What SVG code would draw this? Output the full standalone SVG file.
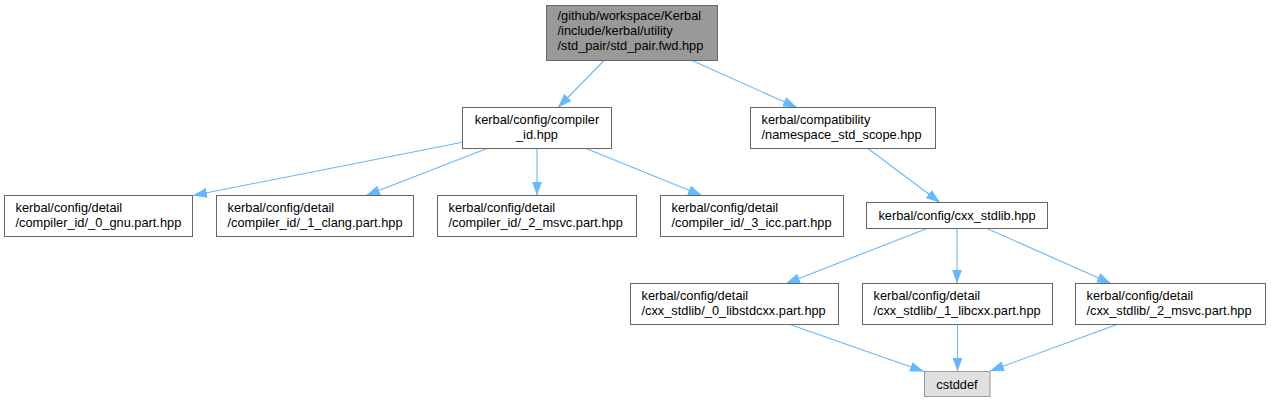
<svg xmlns="http://www.w3.org/2000/svg" width="1271" height="403" viewBox="0 0 1271 403">
<style>
.n rect{fill:#ffffff;stroke:#666666;stroke-width:1}
.n.root rect{fill:#999999}
.n.sys rect{fill:#e0e0e0;stroke:#999999}
text{font-family:"Liberation Sans",Arial,Helvetica,sans-serif;font-size:12.8px;fill:#000000}
.c{text-anchor:middle}
.e path{fill:none;stroke:#63b8ff;stroke-width:1.1;marker-end:url(#ah)}
</style>
<defs>
<marker id="ah" viewBox="0 0 14 10" refX="14" refY="5" markerWidth="14" markerHeight="10" markerUnits="userSpaceOnUse" orient="auto">
<path d="M0,0 L14,5 L0,10 z" fill="#63b8ff" stroke="none"/>
</marker>
</defs>
<rect width="1271" height="403" fill="#ffffff"/>
<g id="edges" class="e">
<path d="M604,60.5 L558,107.5"/>
<path d="M692,60.5 L797,107.5"/>
<path d="M462.5,142.3 L193,195.5"/>
<path d="M487,148.5 L366,195.5"/>
<path d="M537,148.5 L537,195.5"/>
<path d="M586,148.5 L702,195.5"/>
<path d="M868,148.5 L940,202.5"/>
<path d="M927,228.5 L786,283.5"/>
<path d="M957,228.5 L957,283.5"/>
<path d="M987,228.5 L1111,283.5"/>
<path d="M790,324.5 L924,371.5"/>
<path d="M957.5,324.5 L957.5,371.5"/>
<path d="M1117,324.5 L990,371"/>
</g>
<g id="node_root" class="n root">
<rect x="546.5" y="5.5" width="171" height="55"/>
<text x="557.5" y="20">/github/workspace/Kerbal</text>
<text x="557.5" y="35">/include/kerbal/utility</text>
<text x="557.5" y="50">/std_pair/std_pair.fwd.hpp</text>
</g>
<g id="node_compiler_id" class="n">
<rect x="462.5" y="107.5" width="149" height="41"/>
<text class="c" x="537" y="123.5">kerbal/config/compiler</text>
<text class="c" x="537" y="138.5">_id.hpp</text>
</g>
<g id="node_namespace_std_scope" class="n">
<rect x="750.5" y="107.5" width="185" height="41"/>
<text x="761.5" y="123.5">kerbal/compatibility</text>
<text x="761.5" y="138.5">/namespace_std_scope.hpp</text>
</g>
<g id="node_gnu" class="n">
<rect x="4.5" y="195.5" width="188" height="41"/>
<text x="15.5" y="211.5">kerbal/config/detail</text>
<text x="15.5" y="226.5">/compiler_id/_0_gnu.part.hpp</text>
</g>
<g id="node_clang" class="n">
<rect x="216.5" y="195.5" width="197" height="41"/>
<text x="227.5" y="211.5">kerbal/config/detail</text>
<text x="227.5" y="226.5">/compiler_id/_1_clang.part.hpp</text>
</g>
<g id="node_msvc" class="n">
<rect x="437.5" y="195.5" width="199" height="41"/>
<text x="448.5" y="211.5">kerbal/config/detail</text>
<text x="448.5" y="226.5">/compiler_id/_2_msvc.part.hpp</text>
</g>
<g id="node_icc" class="n">
<rect x="660.5" y="195.5" width="183" height="41"/>
<text x="671.5" y="211.5">kerbal/config/detail</text>
<text x="671.5" y="226.5">/compiler_id/_3_icc.part.hpp</text>
</g>
<g id="node_cxx_stdlib" class="n">
<rect x="866.5" y="202.5" width="181" height="26"/>
<text class="c" x="957" y="219.5">kerbal/config/cxx_stdlib.hpp</text>
</g>
<g id="node_libstdcxx" class="n">
<rect x="630.5" y="283.5" width="208" height="41"/>
<text x="641.5" y="299.5">kerbal/config/detail</text>
<text x="641.5" y="314.5">/cxx_stdlib/_0_libstdcxx.part.hpp</text>
</g>
<g id="node_libcxx" class="n">
<rect x="862.5" y="283.5" width="190" height="41"/>
<text x="873.5" y="299.5">kerbal/config/detail</text>
<text x="873.5" y="314.5">/cxx_stdlib/_1_libcxx.part.hpp</text>
</g>
<g id="node_msvc_stdlib" class="n">
<rect x="1075.5" y="283.5" width="190" height="41"/>
<text x="1086.5" y="299.5">kerbal/config/detail</text>
<text x="1086.5" y="314.5">/cxx_stdlib/_2_msvc.part.hpp</text>
</g>
<g id="node_cstddef" class="n sys">
<rect x="924.5" y="371.5" width="65.5" height="25"/>
<text class="c" x="957" y="388.5">cstddef</text>
</g>
</svg>
